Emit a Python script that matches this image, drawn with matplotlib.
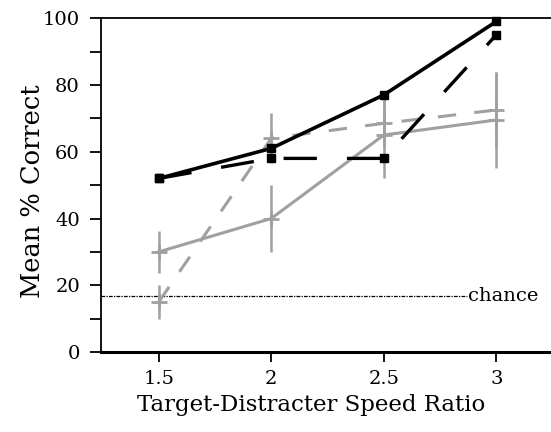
#!/usr/bin/env python3
"""Mean % correct vs target-distracter speed ratio."""
import matplotlib
matplotlib.use("Agg")
import matplotlib.pyplot as plt
from matplotlib.ticker import MultipleLocator

ratios = [1.5, 2.0, 2.5, 3.0]

# black series (no error bars)
solid_black = [52, 61, 77, 99]
dashed_black = [52, 58, 58, 95]

# gray series with error bars
solid_gray = [30, 40, 65, 69.5]
solid_gray_err = [6.3, 10, 13, 14.5]
dashed_gray = [15, 64, 68.5, 72.5]
dashed_gray_err = [5, 7.5, 7, 11.5]

chance = 16.7

plt.rcParams["font.family"] = ["DejaVu Serif"]

fig = plt.figure(figsize=(5.51, 4.32), dpi=100)
ax = fig.add_axes([0.183, 0.185, 0.817, 0.773])

gray = "#a0a0a0"

# gray series
ax.errorbar(ratios, solid_gray, yerr=solid_gray_err, color=gray, lw=2.2,
            elinewidth=1.8, marker="+", ms=11, mew=2, capsize=0, zorder=2)
ax.errorbar(ratios, dashed_gray, yerr=dashed_gray_err, color=gray, lw=2.2,
            elinewidth=1.8, marker="+", ms=11, mew=2, capsize=0,
            dashes=(6, 6), zorder=2)

# black series
ax.plot(ratios, dashed_black, color="black", lw=2.4, dashes=(10, 9),
        marker="s", ms=6, clip_on=False, zorder=3)
ax.plot(ratios, solid_black, color="black", lw=2.6,
        marker="s", ms=6, clip_on=False, zorder=4)

# chance level
ax.hlines(chance, 1.243, 2.87, colors="black", lw=0.9,
          linestyles=(0, (3, 1, 1, 1)), zorder=1)
ax.text(2.875, chance, "chance", fontsize=14, va="center", ha="left")

ax.set_xlim(1.243, 3.243)
ax.set_ylim(0, 100)
ax.set_xticks(ratios)
ax.set_xticklabels(["1.5", "2", "2.5", "3"])
ax.yaxis.set_major_locator(MultipleLocator(20))
ax.yaxis.set_minor_locator(MultipleLocator(10))

ax.spines["right"].set_visible(False)
ax.spines["left"].set_linewidth(1.3)
ax.spines["top"].set_linewidth(1.3)
ax.spines["bottom"].set_linewidth(2.2)

ax.tick_params(axis="x", direction="out", length=7, width=1.3,
               labelsize=14, pad=6)
ax.tick_params(axis="y", which="both", direction="out", length=8, width=1.3,
               labelsize=14, pad=7)

ax.set_xlabel("Target-Distracter Speed Ratio", fontsize=16.5)
ax.xaxis.set_label_coords(0.467, -0.125)
ax.set_ylabel("Mean % Correct", fontsize=18.5)
ax.yaxis.set_label_coords(-0.123, 0.482)

fig.savefig("out.png", dpi=100)
